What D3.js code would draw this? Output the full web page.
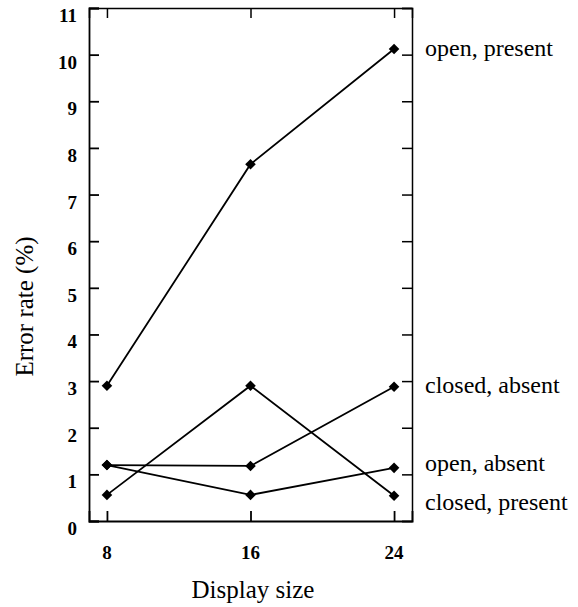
<!DOCTYPE html>
<html lang="en">
<head>
<meta charset="UTF-8">
<title>Error rate by display size</title>
<script src="https://d3js.org/d3.v7.min.js"></script>
<style>
    body { margin: 0; background: #fff; }
    text { font-family: "Liberation Serif", "Times New Roman", serif; fill: #000; }
    .tick-label { font-size: 19px; font-weight: bold; }
    .title { font-size: 25px; }
    .series-label { font-size: 24px; }
</style>
</head>
<body>
<svg id="chart"></svg>
<script>
    // display sizes on the x axis
    const displaySizes = [8, 16, 24];
    const yTicks = [0, 1, 2, 3, 4, 5, 6, 7, 8, 9, 10, 11];

    // error rate (%) per condition
    const openPresent = [2.9, 7.65, 10.12];
    const closedAbsent = [1.2, 1.18, 2.88];
    const openAbsent = [1.2, 0.56, 1.14];
    const closedPresent = [0.56, 2.9, 0.54];

    const seriesNames = ["open, present", "closed, absent", "open, absent", "closed, present"];
    // where each label sits on the error-rate scale
    const labelAt = [10.13, 2.9, 1.22, 0.4];

    const series = [openPresent, closedAbsent, openAbsent, closedPresent];

    const width = 578, height = 607;
    const margin = { top: 8, right: 166, bottom: 86, left: 89 };

    const svg = d3.select("#chart")
        .attr("width", width)
        .attr("height", height);

    const x = d3.scaleLinear()
        .domain([7, 25])
        .range([margin.left, width - margin.right]);

    const y = d3.scaleLinear()
        .domain([0, 11])
        .range([height - margin.bottom, margin.top]);

    const tickLen = 10;

    // frame with inward ticks on all four sides
    svg.append("g")
        .attr("transform", `translate(${x.range()[0]},0)`)
        .call(d3.axisRight(y).tickValues(yTicks).tickSize(tickLen).tickFormat(""))
        .call(g => g.selectAll("line, path").attr("stroke-width", 1.8));

    svg.append("g")
        .attr("transform", `translate(${x.range()[1]},0)`)
        .call(d3.axisLeft(y).tickValues(yTicks).tickSize(tickLen).tickFormat(""))
        .call(g => g.selectAll("line, path").attr("stroke-width", 1.5));

    svg.append("g")
        .attr("transform", `translate(0,${y(0)})`)
        .call(d3.axisTop(x).tickValues(displaySizes).tickSize(tickLen).tickFormat(""))
        .call(g => g.selectAll("line, path").attr("stroke-width", 1.8));

    svg.append("g")
        .attr("transform", `translate(0,${y(11)})`)
        .call(d3.axisBottom(x).tickValues(displaySizes).tickSize(tickLen).tickFormat(""))
        .call(g => g.selectAll("line, path").attr("stroke-width", 1.5));

    // tick labels sit outside the frame
    svg.append("g").selectAll("text")
        .data(yTicks)
        .join("text")
        .attr("class", "tick-label")
        .attr("x", x.range()[0] - 12)
        .attr("y", d => y(d) + 14)
        .attr("text-anchor", "end")
        .text(d => d);

    svg.append("g").selectAll("text")
        .data(displaySizes)
        .join("text")
        .attr("class", "tick-label")
        .attr("x", d => x(d))
        .attr("y", y(0) + 38)
        .attr("text-anchor", "middle")
        .text(d => d);

    const line = d3.line()
        .x((d, i) => x(displaySizes[i]))
        .y(d => y(d));

    svg.append("g").selectAll("path")
        .data(series)
        .join("path")
        .attr("d", line)
        .attr("fill", "none")
        .attr("stroke", "#000")
        .attr("stroke-width", 1.8);

    const diamond = d3.symbol(d3.symbolSquare, 56);

    svg.append("g").selectAll("g")
        .data(series)
        .join("g")
        .selectAll("path")
        .data(d => d)
        .join("path")
        .attr("d", diamond)
        .attr("transform", (d, i) => `translate(${x(displaySizes[i])},${y(d)}) rotate(45)`)
        .attr("fill", "#000");

    svg.append("g").selectAll("text")
        .data(seriesNames)
        .join("text")
        .attr("class", "series-label")
        .attr("x", x.range()[1] + 13)
        .attr("y", (d, i) => y(labelAt[i]))
        .attr("dy", "0.3em")
        .text(d => d);

    svg.append("text")
        .attr("class", "title")
        .attr("text-anchor", "middle")
        .attr("transform", `translate(33,${(y(0) + y(11)) / 2 + 42}) rotate(-90)`)
        .text("Error rate (%)");

    svg.append("text")
        .attr("class", "title")
        .attr("text-anchor", "middle")
        .attr("x", 253)
        .attr("y", 598)
        .text("Display size");
</script>
</body>
</html>
